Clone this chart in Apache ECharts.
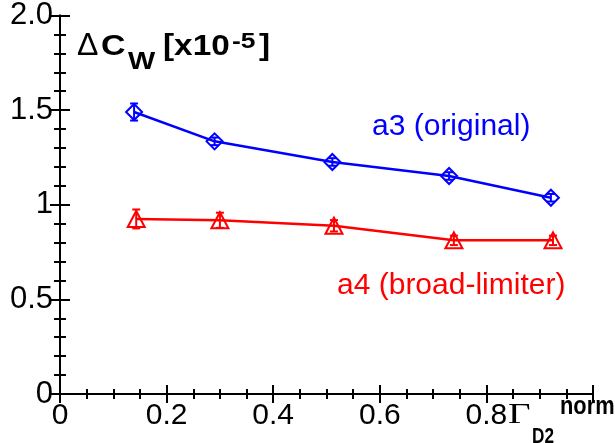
<!DOCTYPE html>
<html>
<head>
<meta charset="utf-8">
<script src="https://cdn.jsdelivr.net/npm/echarts@6/dist/echarts.min.js"></script>
<style>
  html, body { margin: 0; padding: 0; background: #fff; }
  #chart { width: 615px; height: 443px; }
</style>
</head>
<body>
<div id="chart"></div>
<script>
  // values
  const a3X = [0.139, 0.290, 0.511, 0.730, 0.921]
  const a3Y = [1.490, 1.335, 1.226, 1.152, 1.037]
  const a3Err = [0.045, 0.02, 0.02, 0.02, 0.02]
  const a4X = [0.143, 0.300, 0.514, 0.739, 0.925]
  const a4Y = [0.925, 0.918, 0.889, 0.812, 0.812]
  const a4Err = [0.05, 0.04, 0.03, 0.025, 0.025]
  const yTickLabels = { '0': '0', '0.5': '0.5', '1': '1', '1.5': '1.5', '2': '2.0' }
  const xTickLabels = { '0': '0', '0.2': '0.2', '0.4': '0.4', '0.6': '0.6', '0.8': '0.8', '1': '' }

  const BLUE = '#0000ff'
  const RED = '#ff0000'
  const FONT = '"Liberation Sans", Arial, sans-serif'

  function pairs (xs, ys) {
    return xs.map((x, i) => [x, ys[i]])
  }
  function errData (xs, ys, es) {
    return xs.map((x, i) => [x, ys[i], es[i]])
  }

  // error bar with small caps
  function errorBar (color) {
    return function (params, api) {
      const x = api.value(0)
      const y = api.value(1)
      const e = api.value(2)
      const hi = api.coord([x, y + e])
      const lo = api.coord([x, y - e])
      const st = { stroke: color, lineWidth: 2 }
      return {
        type: 'group',
        children: [
          { type: 'line', shape: { x1: hi[0], y1: hi[1], x2: lo[0], y2: lo[1] }, style: st },
          { type: 'line', shape: { x1: hi[0] - 4, y1: hi[1], x2: hi[0] + 4, y2: hi[1] }, style: st },
          { type: 'line', shape: { x1: lo[0] - 4, y1: lo[1], x2: lo[0] + 4, y2: lo[1] }, style: st }
        ]
      }
    }
  }

  // text piece for the titles, stretched sideways like the original
  function txt (text, x, y, font, sx) {
    return {
      type: 'text', x: x, y: y, scaleX: sx || 1,
      style: { text: text, x: 0, y: 0, font: font, fill: '#000', textVerticalAlign: 'middle' }
    }
  }

  const axisLine = { show: true, lineStyle: { color: '#000', width: 2 } }
  const tickStyle = { color: '#000', width: 2 }

  const chart = echarts.init(document.getElementById('chart'))
  chart.setOption({
    animation: false,
    grid: { left: 60, top: 14, right: 22, bottom: 49 },
    xAxis: [{
      type: 'value', min: 0, max: 1, interval: 0.2,
      axisLine: axisLine,
      axisTick: { inside: true, length: 9, lineStyle: tickStyle },
      minorTick: { show: true, splitNumber: 4, length: 5, lineStyle: tickStyle },
      splitLine: { show: false },
      axisLabel: {
        margin: 7, color: '#000', fontSize: 30, fontFamily: FONT,
        formatter: v => xTickLabels[String(+v.toFixed(2))] ?? ''
      }
    }, {
      type: 'value', position: 'top', min: 0, max: 1, interval: 0.2,
      axisLine: axisLine,
      axisTick: { inside: true, length: 9, lineStyle: tickStyle },
      minorTick: { show: true, splitNumber: 4, length: 5, lineStyle: tickStyle },
      splitLine: { show: false },
      axisLabel: { show: false }
    }],
    yAxis: [{
      type: 'value', min: 0, max: 2, interval: 0.5,
      axisLine: axisLine,
      axisTick: { inside: true, length: 10, lineStyle: tickStyle },
      minorTick: { show: true, splitNumber: 5, length: 6, lineStyle: tickStyle },
      splitLine: { show: false },
      axisLabel: {
        margin: 7, color: '#000', fontSize: 31, fontFamily: FONT,
        formatter: v => yTickLabels[String(+v.toFixed(2))] ?? ''
      }
    }, {
      type: 'value', position: 'right', min: 0, max: 2, interval: 0.5,
      axisLine: axisLine,
      axisTick: { inside: true, length: 10, lineStyle: tickStyle },
      minorTick: { show: true, splitNumber: 5, length: 6, lineStyle: tickStyle },
      splitLine: { show: false },
      axisLabel: { show: false }
    }],
    series: [
      {
        name: 'a3 (original)', type: 'line', data: pairs(a3X, a3Y),
        symbol: 'diamond', symbolSize: 16, showAllSymbol: true,
        lineStyle: { color: BLUE, width: 2.5 },
        itemStyle: { color: 'rgba(0,0,0,0)', borderColor: BLUE, borderWidth: 2 }
      },
      {
        type: 'custom', data: errData(a3X, a3Y, a3Err),
        encode: { x: 0, y: 1 }, renderItem: errorBar(BLUE), z: 3
      },
      {
        name: 'a4 (broad-limiter)', type: 'line', data: pairs(a4X, a4Y),
        symbol: 'triangle', symbolSize: [17, 16], showAllSymbol: true,
        lineStyle: { color: RED, width: 2.5 },
        itemStyle: { color: 'rgba(0,0,0,0)', borderColor: RED, borderWidth: 2 }
      },
      {
        type: 'custom', data: errData(a4X, a4Y, a4Err),
        encode: { x: 0, y: 1 }, renderItem: errorBar(RED), z: 3
      }
    ],
    graphic: [
      // y title: ΔC_W [x10^-5]
      txt('\u0394', 77, 46.5, '32px ' + FONT, 1.0),
      txt('C', 101, 46.5, 'bold 29px ' + FONT, 1.17),
      txt('W', 128, 62, 'bold 24px ' + FONT, 1.2),
      txt('[x10', 163, 46.5, 'bold 29px ' + FONT, 1.15),
      txt('-5', 232, 42, 'bold 22px ' + FONT, 1.2),
      txt(']', 259, 46.5, 'bold 29px ' + FONT, 1.15),
      // series labels
      { type: 'text', style: { text: 'a3 (original)', x: 372, y: 127, font: '30px ' + FONT, fill: BLUE, textVerticalAlign: 'middle' } },
      { type: 'text', style: { text: 'a4 (broad-limiter)', x: 337, y: 286, font: '30px ' + FONT, fill: RED, textVerticalAlign: 'middle' } },
      // x title: Γ_D2^norm
      txt('\u0393', 508, 415, '30px "Liberation Serif", "Times New Roman", serif', 1.3),
      txt('D2', 532, 437, 'bold 22px ' + FONT, 0.78),
      txt('norm', 560, 407, 'bold 26px ' + FONT, 0.84)
    ]
  })
</script>
</body>
</html>
